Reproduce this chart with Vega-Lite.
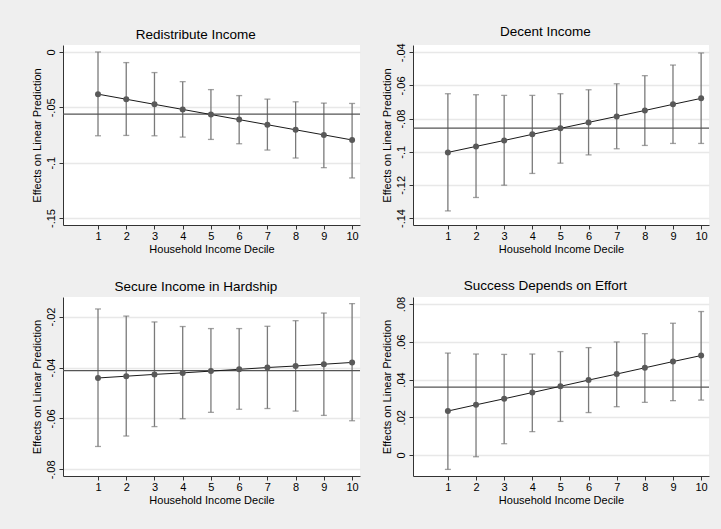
{
  "$schema": "https://vega.github.io/schema/vega-lite/v6.json",
  "padding": {"left": 30, "top": 25, "right": 13, "bottom": 26},
  "background": "#efefef",
  "datasets": {
    "effects": [
      {"panel": "Redistribute Income", "decile": 1, "est": -0.0381, "lo": -0.0757, "hi": 0.0000},
      {"panel": "Redistribute Income", "decile": 2, "est": -0.0427, "lo": -0.0754, "hi": -0.0096},
      {"panel": "Redistribute Income", "decile": 3, "est": -0.0473, "lo": -0.0757, "hi": -0.0186},
      {"panel": "Redistribute Income", "decile": 4, "est": -0.0519, "lo": -0.0769, "hi": -0.0268},
      {"panel": "Redistribute Income", "decile": 5, "est": -0.0565, "lo": -0.0790, "hi": -0.0340},
      {"panel": "Redistribute Income", "decile": 6, "est": -0.0611, "lo": -0.0829, "hi": -0.0394},
      {"panel": "Redistribute Income", "decile": 7, "est": -0.0657, "lo": -0.0886, "hi": -0.0426},
      {"panel": "Redistribute Income", "decile": 8, "est": -0.0703, "lo": -0.0958, "hi": -0.0450},
      {"panel": "Redistribute Income", "decile": 9, "est": -0.0749, "lo": -0.1045, "hi": -0.0462},
      {"panel": "Redistribute Income", "decile": 10, "est": -0.0795, "lo": -0.1138, "hi": -0.0465},
      {"panel": "Decent Income", "decile": 1, "est": -0.1004, "lo": -0.1357, "hi": -0.0650},
      {"panel": "Decent Income", "decile": 2, "est": -0.0968, "lo": -0.1276, "hi": -0.0656},
      {"panel": "Decent Income", "decile": 3, "est": -0.0932, "lo": -0.1202, "hi": -0.0660},
      {"panel": "Decent Income", "decile": 4, "est": -0.0895, "lo": -0.1131, "hi": -0.0660},
      {"panel": "Decent Income", "decile": 5, "est": -0.0859, "lo": -0.1069, "hi": -0.0650},
      {"panel": "Decent Income", "decile": 6, "est": -0.0823, "lo": -0.1019, "hi": -0.0626},
      {"panel": "Decent Income", "decile": 7, "est": -0.0787, "lo": -0.0982, "hi": -0.0590},
      {"panel": "Decent Income", "decile": 8, "est": -0.0751, "lo": -0.0962, "hi": -0.0541},
      {"panel": "Decent Income", "decile": 9, "est": -0.0714, "lo": -0.0950, "hi": -0.0477},
      {"panel": "Decent Income", "decile": 10, "est": -0.0678, "lo": -0.0950, "hi": -0.0404},
      {"panel": "Secure Income in Hardship", "decile": 1, "est": -0.0441, "lo": -0.0710, "hi": -0.0170},
      {"panel": "Secure Income in Hardship", "decile": 2, "est": -0.0434, "lo": -0.0669, "hi": -0.0198},
      {"panel": "Secure Income in Hardship", "decile": 3, "est": -0.0427, "lo": -0.0632, "hi": -0.0221},
      {"panel": "Secure Income in Hardship", "decile": 4, "est": -0.0421, "lo": -0.0601, "hi": -0.0239},
      {"panel": "Secure Income in Hardship", "decile": 5, "est": -0.0414, "lo": -0.0576, "hi": -0.0247},
      {"panel": "Secure Income in Hardship", "decile": 6, "est": -0.0407, "lo": -0.0564, "hi": -0.0247},
      {"panel": "Secure Income in Hardship", "decile": 7, "est": -0.0400, "lo": -0.0561, "hi": -0.0238},
      {"panel": "Secure Income in Hardship", "decile": 8, "est": -0.0394, "lo": -0.0571, "hi": -0.0216},
      {"panel": "Secure Income in Hardship", "decile": 9, "est": -0.0387, "lo": -0.0588, "hi": -0.0186},
      {"panel": "Secure Income in Hardship", "decile": 10, "est": -0.0380, "lo": -0.0609, "hi": -0.0149},
      {"panel": "Success Depends on Effort", "decile": 1, "est": 0.0233, "lo": -0.0076, "hi": 0.0540},
      {"panel": "Success Depends on Effort", "decile": 2, "est": 0.0266, "lo": -0.0009, "hi": 0.0535},
      {"panel": "Success Depends on Effort", "decile": 3, "est": 0.0298, "lo": 0.0060, "hi": 0.0533},
      {"panel": "Success Depends on Effort", "decile": 4, "est": 0.0331, "lo": 0.0124, "hi": 0.0535},
      {"panel": "Success Depends on Effort", "decile": 5, "est": 0.0364, "lo": 0.0178, "hi": 0.0548},
      {"panel": "Success Depends on Effort", "decile": 6, "est": 0.0397, "lo": 0.0225, "hi": 0.0569},
      {"panel": "Success Depends on Effort", "decile": 7, "est": 0.0429, "lo": 0.0256, "hi": 0.0599},
      {"panel": "Success Depends on Effort", "decile": 8, "est": 0.0462, "lo": 0.0279, "hi": 0.0643},
      {"panel": "Success Depends on Effort", "decile": 9, "est": 0.0495, "lo": 0.0288, "hi": 0.0698},
      {"panel": "Success Depends on Effort", "decile": 10, "est": 0.0527, "lo": 0.0291, "hi": 0.0760}
    ],
    "refs": [
      {"panel": "Redistribute Income", "ref": -0.0562},
      {"panel": "Decent Income", "ref": -0.0857},
      {"panel": "Secure Income in Hardship", "ref": -0.0412},
      {"panel": "Success Depends on Effort", "ref": 0.0360}
    ]
  },
  "bounds": "flush",
  "columns": 2,
  "spacing": {"row": 72, "column": 53},
  "concat": [
    {
      "width": 297, "height": 180,
      "title": "Redistribute Income",
      "layer": [
        {
          "data": {"name": "effects"},
          "transform": [{"filter": "datum.panel === 'Redistribute Income'"}],
          "mark": {"type": "rule", "color": "#7a7a7a", "strokeWidth": 1.3},
          "encoding": {
            "x": {"field": "decile", "type": "quantitative", "title": "Household Income Decile", "scale": {"domain": [-0.24, 10.28], "nice": false, "zero": false}, "axis": {"values": [1,2,3,4,5,6,7,8,9,10], "labelOverlap": false}},
            "y": {"field": "lo", "type": "quantitative", "title": "Effects on Linear Prediction", "scale": {"domain": [-0.1563, 0.0063], "nice": false, "zero": false}, "axis": {"values": [0, -0.05, -0.1, -0.15], "labelOverlap": false}},
            "y2": {"field": "hi"}
          }
        },
        {
          "data": {"name": "effects"},
          "transform": [{"filter": "datum.panel === 'Redistribute Income'"}],
          "mark": {"type": "tick", "orient": "horizontal", "color": "#7a7a7a", "size": 6, "thickness": 1.3},
          "encoding": {
            "x": {"field": "decile", "type": "quantitative", "title": "Household Income Decile", "axis": {"values": [1,2,3,4,5,6,7,8,9,10], "labelOverlap": false}},
            "y": {"field": "lo", "type": "quantitative", "title": "Effects on Linear Prediction", "axis": {"values": [0, -0.05, -0.1, -0.15], "labelOverlap": false}}
          }
        },
        {
          "data": {"name": "effects"},
          "transform": [{"filter": "datum.panel === 'Redistribute Income'"}],
          "mark": {"type": "tick", "orient": "horizontal", "color": "#7a7a7a", "size": 6, "thickness": 1.3},
          "encoding": {
            "x": {"field": "decile", "type": "quantitative", "title": "Household Income Decile", "axis": {"values": [1,2,3,4,5,6,7,8,9,10], "labelOverlap": false}},
            "y": {"field": "hi", "type": "quantitative", "title": "Effects on Linear Prediction", "axis": {"values": [0, -0.05, -0.1, -0.15], "labelOverlap": false}}
          }
        },
        {
          "data": {"name": "refs"},
          "transform": [{"filter": "datum.panel === 'Redistribute Income'"}],
          "mark": {"type": "rule", "color": "#555555", "strokeWidth": 1.3},
          "encoding": {
            "y": {"field": "ref", "type": "quantitative", "title": "Effects on Linear Prediction", "axis": {"values": [0, -0.05, -0.1, -0.15], "labelOverlap": false}}
          }
        },
        {
          "data": {"name": "effects"},
          "transform": [{"filter": "datum.panel === 'Redistribute Income'"}],
          "mark": {"type": "line", "color": "#1a1a1a", "strokeWidth": 1},
          "encoding": {
            "x": {"field": "decile", "type": "quantitative", "title": "Household Income Decile", "axis": {"values": [1,2,3,4,5,6,7,8,9,10], "labelOverlap": false}},
            "y": {"field": "est", "type": "quantitative", "title": "Effects on Linear Prediction", "axis": {"values": [0, -0.05, -0.1, -0.15], "labelOverlap": false}}
          }
        },
        {
          "data": {"name": "effects"},
          "transform": [{"filter": "datum.panel === 'Redistribute Income'"}],
          "mark": {"type": "point", "filled": true, "color": "#595959", "opacity": 1, "size": 36},
          "encoding": {
            "x": {"field": "decile", "type": "quantitative", "title": "Household Income Decile", "axis": {"values": [1,2,3,4,5,6,7,8,9,10], "labelOverlap": false}},
            "y": {"field": "est", "type": "quantitative", "title": "Effects on Linear Prediction", "axis": {"values": [0, -0.05, -0.1, -0.15], "labelOverlap": false}}
          }
        }
      ]
    },
    {
      "width": 296, "height": 180,
      "title": "Decent Income",
      "layer": [
        {
          "data": {"name": "effects"},
          "transform": [{"filter": "datum.panel === 'Decent Income'"}],
          "mark": {"type": "rule", "color": "#7a7a7a", "strokeWidth": 1.3},
          "encoding": {
            "x": {"field": "decile", "type": "quantitative", "title": "Household Income Decile", "scale": {"domain": [-0.24, 10.28], "nice": false, "zero": false}, "axis": {"values": [1,2,3,4,5,6,7,8,9,10], "labelOverlap": false}},
            "y": {"field": "lo", "type": "quantitative", "title": "Effects on Linear Prediction", "scale": {"domain": [-0.1442, -0.0356], "nice": false, "zero": false}, "axis": {"values": [-0.04, -0.06, -0.08, -0.1, -0.12, -0.14], "labelOverlap": false}},
            "y2": {"field": "hi"}
          }
        },
        {
          "data": {"name": "effects"},
          "transform": [{"filter": "datum.panel === 'Decent Income'"}],
          "mark": {"type": "tick", "orient": "horizontal", "color": "#7a7a7a", "size": 6, "thickness": 1.3},
          "encoding": {
            "x": {"field": "decile", "type": "quantitative", "title": "Household Income Decile", "axis": {"values": [1,2,3,4,5,6,7,8,9,10], "labelOverlap": false}},
            "y": {"field": "lo", "type": "quantitative", "title": "Effects on Linear Prediction", "axis": {"values": [-0.04, -0.06, -0.08, -0.1, -0.12, -0.14], "labelOverlap": false}}
          }
        },
        {
          "data": {"name": "effects"},
          "transform": [{"filter": "datum.panel === 'Decent Income'"}],
          "mark": {"type": "tick", "orient": "horizontal", "color": "#7a7a7a", "size": 6, "thickness": 1.3},
          "encoding": {
            "x": {"field": "decile", "type": "quantitative", "title": "Household Income Decile", "axis": {"values": [1,2,3,4,5,6,7,8,9,10], "labelOverlap": false}},
            "y": {"field": "hi", "type": "quantitative", "title": "Effects on Linear Prediction", "axis": {"values": [-0.04, -0.06, -0.08, -0.1, -0.12, -0.14], "labelOverlap": false}}
          }
        },
        {
          "data": {"name": "refs"},
          "transform": [{"filter": "datum.panel === 'Decent Income'"}],
          "mark": {"type": "rule", "color": "#555555", "strokeWidth": 1.3},
          "encoding": {
            "y": {"field": "ref", "type": "quantitative", "title": "Effects on Linear Prediction", "axis": {"values": [-0.04, -0.06, -0.08, -0.1, -0.12, -0.14], "labelOverlap": false}}
          }
        },
        {
          "data": {"name": "effects"},
          "transform": [{"filter": "datum.panel === 'Decent Income'"}],
          "mark": {"type": "line", "color": "#1a1a1a", "strokeWidth": 1},
          "encoding": {
            "x": {"field": "decile", "type": "quantitative", "title": "Household Income Decile", "axis": {"values": [1,2,3,4,5,6,7,8,9,10], "labelOverlap": false}},
            "y": {"field": "est", "type": "quantitative", "title": "Effects on Linear Prediction", "axis": {"values": [-0.04, -0.06, -0.08, -0.1, -0.12, -0.14], "labelOverlap": false}}
          }
        },
        {
          "data": {"name": "effects"},
          "transform": [{"filter": "datum.panel === 'Decent Income'"}],
          "mark": {"type": "point", "filled": true, "color": "#595959", "opacity": 1, "size": 36},
          "encoding": {
            "x": {"field": "decile", "type": "quantitative", "title": "Household Income Decile", "axis": {"values": [1,2,3,4,5,6,7,8,9,10], "labelOverlap": false}},
            "y": {"field": "est", "type": "quantitative", "title": "Effects on Linear Prediction", "axis": {"values": [-0.04, -0.06, -0.08, -0.1, -0.12, -0.14], "labelOverlap": false}}
          }
        }
      ]
    },
    {
      "width": 297, "height": 179,
      "title": "Secure Income in Hardship",
      "layer": [
        {
          "data": {"name": "effects"},
          "transform": [{"filter": "datum.panel === 'Secure Income in Hardship'"}],
          "mark": {"type": "rule", "color": "#7a7a7a", "strokeWidth": 1.3},
          "encoding": {
            "x": {"field": "decile", "type": "quantitative", "title": "Household Income Decile", "scale": {"domain": [-0.24, 10.28], "nice": false, "zero": false}, "axis": {"values": [1,2,3,4,5,6,7,8,9,10], "labelOverlap": false}},
            "y": {"field": "lo", "type": "quantitative", "title": "Effects on Linear Prediction", "scale": {"domain": [-0.0826, -0.0123], "nice": false, "zero": false}, "axis": {"values": [-0.02, -0.04, -0.06, -0.08], "labelOverlap": false}},
            "y2": {"field": "hi"}
          }
        },
        {
          "data": {"name": "effects"},
          "transform": [{"filter": "datum.panel === 'Secure Income in Hardship'"}],
          "mark": {"type": "tick", "orient": "horizontal", "color": "#7a7a7a", "size": 6, "thickness": 1.3},
          "encoding": {
            "x": {"field": "decile", "type": "quantitative", "title": "Household Income Decile", "axis": {"values": [1,2,3,4,5,6,7,8,9,10], "labelOverlap": false}},
            "y": {"field": "lo", "type": "quantitative", "title": "Effects on Linear Prediction", "axis": {"values": [-0.02, -0.04, -0.06, -0.08], "labelOverlap": false}}
          }
        },
        {
          "data": {"name": "effects"},
          "transform": [{"filter": "datum.panel === 'Secure Income in Hardship'"}],
          "mark": {"type": "tick", "orient": "horizontal", "color": "#7a7a7a", "size": 6, "thickness": 1.3},
          "encoding": {
            "x": {"field": "decile", "type": "quantitative", "title": "Household Income Decile", "axis": {"values": [1,2,3,4,5,6,7,8,9,10], "labelOverlap": false}},
            "y": {"field": "hi", "type": "quantitative", "title": "Effects on Linear Prediction", "axis": {"values": [-0.02, -0.04, -0.06, -0.08], "labelOverlap": false}}
          }
        },
        {
          "data": {"name": "refs"},
          "transform": [{"filter": "datum.panel === 'Secure Income in Hardship'"}],
          "mark": {"type": "rule", "color": "#555555", "strokeWidth": 1.3},
          "encoding": {
            "y": {"field": "ref", "type": "quantitative", "title": "Effects on Linear Prediction", "axis": {"values": [-0.02, -0.04, -0.06, -0.08], "labelOverlap": false}}
          }
        },
        {
          "data": {"name": "effects"},
          "transform": [{"filter": "datum.panel === 'Secure Income in Hardship'"}],
          "mark": {"type": "line", "color": "#1a1a1a", "strokeWidth": 1},
          "encoding": {
            "x": {"field": "decile", "type": "quantitative", "title": "Household Income Decile", "axis": {"values": [1,2,3,4,5,6,7,8,9,10], "labelOverlap": false}},
            "y": {"field": "est", "type": "quantitative", "title": "Effects on Linear Prediction", "axis": {"values": [-0.02, -0.04, -0.06, -0.08], "labelOverlap": false}}
          }
        },
        {
          "data": {"name": "effects"},
          "transform": [{"filter": "datum.panel === 'Secure Income in Hardship'"}],
          "mark": {"type": "point", "filled": true, "color": "#595959", "opacity": 1, "size": 36},
          "encoding": {
            "x": {"field": "decile", "type": "quantitative", "title": "Household Income Decile", "axis": {"values": [1,2,3,4,5,6,7,8,9,10], "labelOverlap": false}},
            "y": {"field": "est", "type": "quantitative", "title": "Effects on Linear Prediction", "axis": {"values": [-0.02, -0.04, -0.06, -0.08], "labelOverlap": false}}
          }
        }
      ]
    },
    {
      "width": 296, "height": 179,
      "title": "Success Depends on Effort",
      "layer": [
        {
          "data": {"name": "effects"},
          "transform": [{"filter": "datum.panel === 'Success Depends on Effort'"}],
          "mark": {"type": "rule", "color": "#7a7a7a", "strokeWidth": 1.3},
          "encoding": {
            "x": {"field": "decile", "type": "quantitative", "title": "Household Income Decile", "scale": {"domain": [-0.24, 10.28], "nice": false, "zero": false}, "axis": {"values": [1,2,3,4,5,6,7,8,9,10], "labelOverlap": false}},
            "y": {"field": "lo", "type": "quantitative", "title": "Effects on Linear Prediction", "scale": {"domain": [-0.0111, 0.0837], "nice": false, "zero": false}, "axis": {"values": [0, 0.02, 0.04, 0.06, 0.08], "labelOverlap": false}},
            "y2": {"field": "hi"}
          }
        },
        {
          "data": {"name": "effects"},
          "transform": [{"filter": "datum.panel === 'Success Depends on Effort'"}],
          "mark": {"type": "tick", "orient": "horizontal", "color": "#7a7a7a", "size": 6, "thickness": 1.3},
          "encoding": {
            "x": {"field": "decile", "type": "quantitative", "title": "Household Income Decile", "axis": {"values": [1,2,3,4,5,6,7,8,9,10], "labelOverlap": false}},
            "y": {"field": "lo", "type": "quantitative", "title": "Effects on Linear Prediction", "axis": {"values": [0, 0.02, 0.04, 0.06, 0.08], "labelOverlap": false}}
          }
        },
        {
          "data": {"name": "effects"},
          "transform": [{"filter": "datum.panel === 'Success Depends on Effort'"}],
          "mark": {"type": "tick", "orient": "horizontal", "color": "#7a7a7a", "size": 6, "thickness": 1.3},
          "encoding": {
            "x": {"field": "decile", "type": "quantitative", "title": "Household Income Decile", "axis": {"values": [1,2,3,4,5,6,7,8,9,10], "labelOverlap": false}},
            "y": {"field": "hi", "type": "quantitative", "title": "Effects on Linear Prediction", "axis": {"values": [0, 0.02, 0.04, 0.06, 0.08], "labelOverlap": false}}
          }
        },
        {
          "data": {"name": "refs"},
          "transform": [{"filter": "datum.panel === 'Success Depends on Effort'"}],
          "mark": {"type": "rule", "color": "#555555", "strokeWidth": 1.3},
          "encoding": {
            "y": {"field": "ref", "type": "quantitative", "title": "Effects on Linear Prediction", "axis": {"values": [0, 0.02, 0.04, 0.06, 0.08], "labelOverlap": false}}
          }
        },
        {
          "data": {"name": "effects"},
          "transform": [{"filter": "datum.panel === 'Success Depends on Effort'"}],
          "mark": {"type": "line", "color": "#1a1a1a", "strokeWidth": 1},
          "encoding": {
            "x": {"field": "decile", "type": "quantitative", "title": "Household Income Decile", "axis": {"values": [1,2,3,4,5,6,7,8,9,10], "labelOverlap": false}},
            "y": {"field": "est", "type": "quantitative", "title": "Effects on Linear Prediction", "axis": {"values": [0, 0.02, 0.04, 0.06, 0.08], "labelOverlap": false}}
          }
        },
        {
          "data": {"name": "effects"},
          "transform": [{"filter": "datum.panel === 'Success Depends on Effort'"}],
          "mark": {"type": "point", "filled": true, "color": "#595959", "opacity": 1, "size": 36},
          "encoding": {
            "x": {"field": "decile", "type": "quantitative", "title": "Household Income Decile", "axis": {"values": [1,2,3,4,5,6,7,8,9,10], "labelOverlap": false}},
            "y": {"field": "est", "type": "quantitative", "title": "Effects on Linear Prediction", "axis": {"values": [0, 0.02, 0.04, 0.06, 0.08], "labelOverlap": false}}
          }
        }
      ]
    }
  ],
  "config": {
    "font": "Liberation Sans",
    "view": {"fill": "white", "stroke": null},
    "axis": {
      "domainColor": "#333333", "domainWidth": 1,
      "tickColor": "#333333", "tickSize": 4, "tickWidth": 1,
      "labelFont": "Liberation Sans", "labelFontSize": 11, "labelColor": "#000000",
      "titleFont": "Liberation Sans", "titleFontSize": 11, "titleFontWeight": "normal", "titleColor": "#000000",
      "labelFlush": false, "labelOverlap": false
    },
    "axisX": {"grid": false, "labelPadding": 1, "titlePadding": 2},
    "axisY": {
      "grid": true, "gridColor": "#e8e8e8", "gridWidth": 1.5,
      "labelAngle": 270, "labelAlign": "center", "labelBaseline": "bottom",
      "labelPadding": 3, "titlePadding": 3,
      "labelExpr": "(datum.value < 0 ? '-' : '') + replace(format(abs(datum.value), '.2~f'), '0.', '.')"
    },
    "title": {"font": "Liberation Sans", "fontSize": 13.5, "fontWeight": "normal", "color": "#000000", "anchor": "middle", "frame": "bounds", "offset": 4}
  }
}
